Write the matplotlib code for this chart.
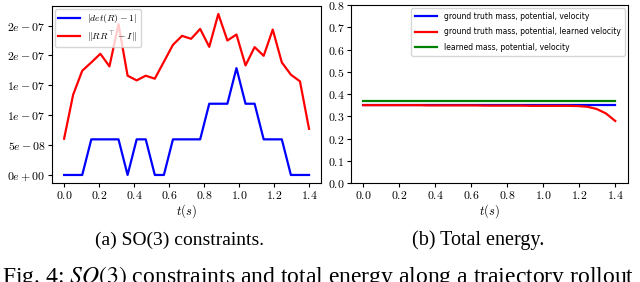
import numpy as np
import matplotlib
matplotlib.use("Agg")
import matplotlib.pyplot as plt

plt.rcParams['mathtext.fontset'] = 'cm'
plt.rcParams['axes.linewidth'] = 0.8

# tiempo del rollout (28 pasos)
t = np.linspace(0.0, 1.4, 28)

# restricciones SO(3), unidades de 1e-8
det_err = [0, 0, 0, 5.96, 5.96, 5.96, 5.96, 0, 5.96, 5.96, 0, 0, 5.96, 5.96,
           5.96, 5.96, 11.92, 11.92, 11.92, 17.88, 11.92, 11.92, 5.96, 5.96,
           5.96, 0, 0, 0]
orth_err = [6.06, 13.44, 17.44, 18.83, 20.28, 18.17, 25.22, 16.61, 15.83,
            16.61, 16.11, 18.94, 21.78, 23.28, 22.78, 24.44, 21.44, 26.94,
            22.5, 23.5, 18.33, 21.39, 19.94, 24.33, 18.83, 16.78, 15.67, 7.72]

# energia total
e_gt = [0.350] * 28
e_learned_vel = [0.350, 0.350, 0.350, 0.350, 0.350, 0.350, 0.350, 0.349,
                 0.349, 0.349, 0.349, 0.349, 0.349, 0.348, 0.348, 0.348,
                 0.348, 0.348, 0.347, 0.347, 0.347, 0.347, 0.347, 0.346,
                 0.343, 0.333, 0.313, 0.279]
e_learned = [0.369] * 28

left_yticks = [0, 5e-8, 1e-7, 1.5e-7, 2e-7, 2.5e-7]
left_ylabels = ['0e+00', '5e-08', '1e-07', '1e-07', '2e-07', '2e-07']
xticks = [0.0, 0.2, 0.4, 0.6, 0.8, 1.0, 1.2, 1.4]
right_yticks = [0.0, 0.1, 0.2, 0.3, 0.4, 0.5, 0.6, 0.7, 0.8]

fig = plt.figure(figsize=(6.4, 2.82), dpi=100)
ax1 = fig.add_axes([0.081, 0.351, 0.421, 0.628])
ax2 = fig.add_axes([0.548, 0.351, 0.433, 0.631])

ax1.plot(t, np.array(det_err) * 1e-8, color='blue', lw=1.6, label=r'$|det(R)-1|$')
ax1.plot(t, np.array(orth_err) * 1e-8, color='red', lw=1.6, label=r'$\|RR^\top-I\|$')
ax1.set_yticks(left_yticks)
ax1.set_yticklabels(['$%s$' % s for s in left_ylabels])
ax1.set_xticks(xticks)
ax1.set_xticklabels(['$%.1f$' % v for v in xticks])
ax1.set_xlabel('$t(s)$', fontsize=9, labelpad=0)
ax1.legend(loc='upper left', fontsize=7, handlelength=2.2, labelspacing=0.4,
           borderaxespad=0.3, borderpad=0.35)

ax2.plot(t, e_gt, color='blue', lw=1.6, label='ground truth mass, potential, velocity')
ax2.plot(t, e_learned_vel, color='red', lw=1.6, label='ground truth mass, potential, learned velocity')
ax2.plot(t, e_learned, color='green', lw=1.6, label='learned mass, potential, velocity')
ax2.set_ylim(0, 0.8)
ax2.set_yticks(right_yticks)
ax2.set_yticklabels(['$%.1f$' % v for v in right_yticks])
ax2.set_xticks(xticks)
ax2.set_xticklabels(['$%.1f$' % v for v in xticks])
ax2.set_xlabel('$t(s)$', fontsize=9, labelpad=0)
ax2.legend(loc='upper right', fontsize=5.5, handlelength=2.9, handletextpad=0.9,
           labelspacing=0.85, borderaxespad=0.4, borderpad=0.5)

for ax in (ax1, ax2):
    ax.tick_params(labelsize=8.5, length=3, pad=1.5)

fig.text(0.28, 0.131, '(a) SO(3) constraints.', ha='center', va='baseline',
         fontsize=14, family='Liberation Serif')
fig.text(0.747, 0.131, '(b) Total energy.', ha='center', va='baseline',
         fontsize=14.5, family='Liberation Serif')
fig.text(0.003, -0.004, r'Fig. 4: $SO(3)$ constraints and total energy along a trajectory rollout',
         ha='left', va='baseline', fontsize=17, family='Liberation Serif',
         math_fontfamily='stix')

fig.savefig('out.png', dpi=100)
